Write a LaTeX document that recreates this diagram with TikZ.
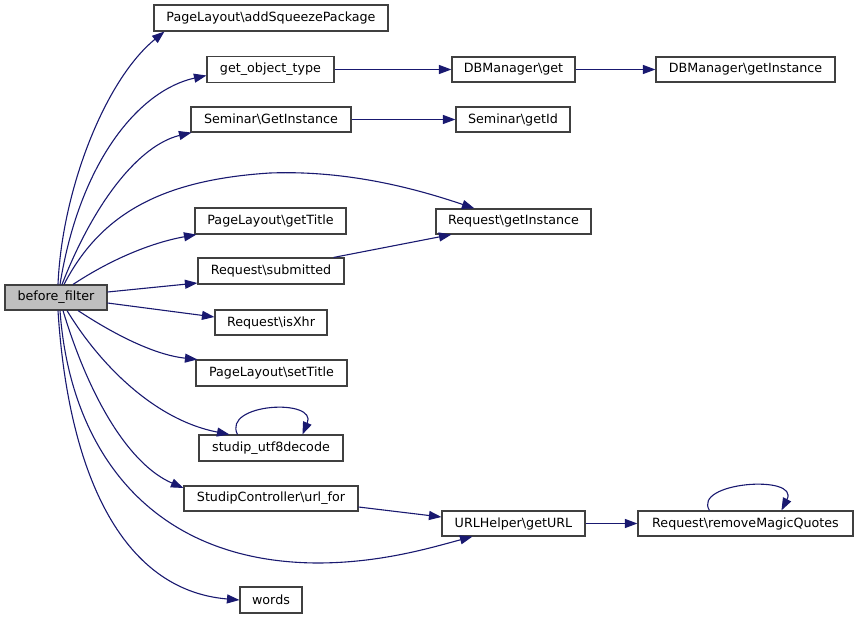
\documentclass[tikz,border=0pt]{standalone}
\usepackage{fontspec}
\setmainfont{DejaVu Sans}
\usetikzlibrary{arrows.meta}
\definecolor{edgeblue}{HTML}{191970}
\definecolor{boxborder}{HTML}{404040}
\definecolor{bffill}{HTML}{BFBFBF}
\tikzset{
  box/.style={draw=boxborder, line width=1.1bp, fill=white, inner sep=0pt, align=center,
    font=\fontsize{12.7bp}{15bp}\selectfont},
  rootbox/.style={box, fill=bffill},
  call/.style={draw=edgeblue, line width=1.1bp, -{Triangle[length=12.5bp,width=9bp]}, edgeblue}
}
\begin{document}
\begin{tikzpicture}[x=1bp, y=-1bp]
\useasboundingbox (0,0) rectangle (859,619);
% nodes
\node[rootbox, minimum width=102bp, minimum height=25bp] (bf) at (56,297.5) {before\_filter};
\node[box, minimum width=234bp, minimum height=26bp] (asp) at (271,18) {PageLayout\textbackslash addSqueezePackage};
\node[box, minimum width=127bp, minimum height=26bp] (got) at (270.5,69.5) {get\_object\_type};
\node[box, minimum width=160bp, minimum height=25bp] (sgi) at (271,119.5) {Seminar\textbackslash GetInstance};
\node[box, minimum width=151bp, minimum height=26bp] (gt) at (270.5,221) {PageLayout\textbackslash getTitle};
\node[box, minimum width=146bp, minimum height=26bp] (sub) at (271,271) {Request\textbackslash submitted};
\node[box, minimum width=112bp, minimum height=25bp] (xhr) at (271,322.5) {Request\textbackslash isXhr};
\node[box, minimum width=151bp, minimum height=26bp] (st) at (271.5,373) {PageLayout\textbackslash setTitle};
\node[box, minimum width=144bp, minimum height=26bp] (utf) at (271,448) {studip\_utf8decode};
\node[box, minimum width=174bp, minimum height=25bp] (url) at (271,498.5) {StudipController\textbackslash url\_for};
\node[box, minimum width=62bp, minimum height=26bp] (words) at (271,600) {words};
\node[box, minimum width=123bp, minimum height=25bp] (dbg) at (513.5,69.5) {DBManager\textbackslash get};
\node[box, minimum width=179bp, minimum height=25bp] (dbi) at (745.5,69.5) {DBManager\textbackslash getInstance};
\node[box, minimum width=114bp, minimum height=25bp] (gid) at (513,119.5) {Seminar\textbackslash getId};
\node[box, minimum width=155bp, minimum height=25bp] (rgi) at (513.5,221.5) {Request\textbackslash getInstance};
\node[box, minimum width=143bp, minimum height=25bp] (gurl) at (513.5,523.5) {URLHelper\textbackslash getURL};
\node[box, minimum width=215bp, minimum height=25bp] (rmq) at (745.5,523.5) {Request\textbackslash removeMagicQuotes};
% edges
\draw[call] ([xshift=2bp]bf.north) .. controls (62,190) and (105,80) .. ([xshift=11bp]asp.south west);
\draw[call] ([xshift=4bp]bf.north) .. controls (80,160) and (140,90) .. ([yshift=-6bp]got.west);
\draw[call] ([xshift=6bp]bf.north) .. controls (95,200) and (140,145) .. ([xshift=1bp]sgi.south west);
\draw[call] ([xshift=8bp]bf.north) .. controls (100,215) and (160,180) .. (270,173) .. controls (350,170) and (420,190) .. ([xshift=39bp]rgi.north west);
\draw[call] ([xshift=17bp]bf.north) .. controls (110,260) and (150,243) .. ([xshift=2bp]gt.south west);
\draw[call] ([yshift=5.5bp]bf.east) -- ([yshift=-12bp]sub.west);
\draw[call] ([xshift=-11bp]sub.north east) -- ([xshift=16bp]rgi.south west);
\draw[call] ([yshift=-5.5bp]bf.east) -- ([yshift=5.5bp]xhr.west);
\draw[call] ([xshift=22bp]bf.south) .. controls (115,335) and (155,355) .. ([xshift=2bp]st.north west);
\draw[call] ([xshift=11bp]bf.south) .. controls (100,365) and (155,420) .. ([xshift=31bp]utf.north west);
\draw[call] ([xshift=7bp]bf.south) .. controls (90,400) and (130,465) .. ([yshift=10.5bp]url.west);
\draw[call] ([xshift=4bp]bf.south) .. controls (70,450) and (150,562) .. (317,563) .. controls (380,563) and (430,548) .. ([xshift=31bp]gurl.south west);
\draw[call] ([yshift=-8.5bp]url.east) -- ([yshift=6.5bp]gurl.west);
\draw[call] ([xshift=2bp]bf.south) .. controls (68,470) and (120,590) .. (words.west);
\draw[call] (got.east) -- (dbg.west);
\draw[call] (dbg.east) -- (dbi.west);
\draw[call] (sgi.east) -- (gid.west);
\draw[call] (gurl.east) -- (rmq.west);
% self loops
\draw[call] ([xshift=39bp]utf.north west) .. controls (222,403) and (318,398) .. ([xshift=104bp]utf.north west);
\draw[call] ([xshift=72bp]rmq.north west) .. controls (692,482) and (800,474) .. ([xshift=144bp]rmq.north west);
\end{tikzpicture}
\end{document}
